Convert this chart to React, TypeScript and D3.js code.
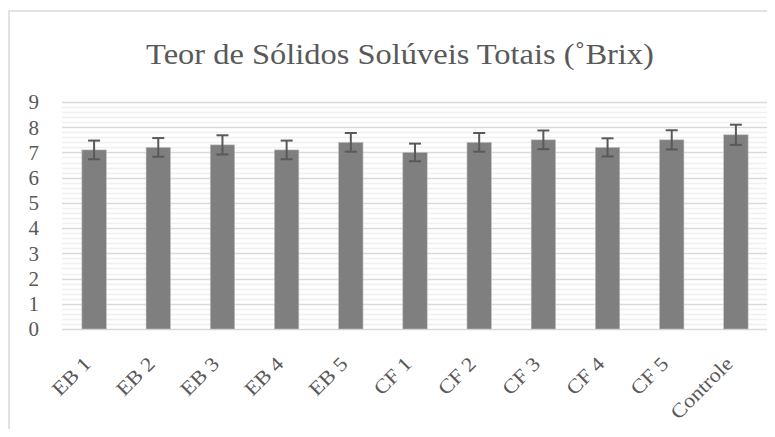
import * as d3 from "d3";
import { useEffect, useRef } from "react";

const categories = ["EB 1", "EB 2", "EB 3", "EB 4", "EB 5", "CF 1", "CF 2", "CF 3", "CF 4", "CF 5", "Controle"];
const means = [7.1, 7.2, 7.3, 7.1, 7.4, 7.0, 7.4, 7.5, 7.2, 7.5, 7.7];
const errors = [0.37, 0.37, 0.38, 0.37, 0.37, 0.35, 0.37, 0.37, 0.36, 0.38, 0.4];
const yTicks = [0, 1, 2, 3, 4, 5, 6, 7, 8, 9];

const width = 775;
const height = 437;
const font = "'Liberation Serif', serif";

export default function App() {
  const svgRef = useRef<SVGSVGElement>(null);

  useEffect(() => {
    if (!svgRef.current) return;
    const svg = d3.select(svgRef.current);
    svg.selectAll("*").remove();

    const margin = { top: 102, right: 7, bottom: 108, left: 62 };
    const innerWidth = width - margin.left - margin.right;
    const innerHeight = height - margin.top - margin.bottom;

    // chart border (cut off at right and bottom like the source)
    svg
      .append("rect")
      .attr("x", 9)
      .attr("y", 11)
      .attr("width", width)
      .attr("height", height)
      .style("fill", "white")
      .style("stroke", "#d9d9d9")
      .style("stroke-width", 1.5);

    // title, stretched a little to match the wider source font
    svg
      .append("text")
      .attr("transform", "translate(400,64) scale(1.12,1)")
      .attr("text-anchor", "middle")
      .style("font-family", font)
      .style("font-size", "29px")
      .style("fill", "#595959")
      .text("Teor de Sólidos Solúveis Totais (˚Brix)");

    const g = svg.append("g").attr("transform", `translate(${margin.left},${margin.top})`);

    const x = d3.scaleBand().domain(categories).range([0, innerWidth]).paddingInner(0.62).paddingOuter(0.31);
    const y = d3.scaleLinear().domain([0, 9]).range([innerHeight, 0]);

    // minor gridlines every 0.2
    const minor = d3.range(0, 9.001, 0.2).filter((v) => Math.abs(v - Math.round(v)) > 0.01);
    g.selectAll(".minor")
      .data(minor)
      .enter()
      .append("line")
      .attr("x1", 0)
      .attr("x2", innerWidth)
      .attr("y1", (d) => Math.round(y(d)) + 0.5)
      .attr("y2", (d) => Math.round(y(d)) + 0.5)
      .style("stroke", "#f0f0f0")
      .style("stroke-width", 1.5);

    // major gridlines
    g.selectAll(".major")
      .data(yTicks)
      .enter()
      .append("line")
      .attr("x1", 0)
      .attr("x2", innerWidth)
      .attr("y1", (d) => Math.round(y(d)) + 0.5)
      .attr("y2", (d) => Math.round(y(d)) + 0.5)
      .style("stroke", "#d9d9d9")
      .style("stroke-width", 1.5);

    // y tick labels
    g.selectAll(".ytick")
      .data(yTicks)
      .enter()
      .append("text")
      .attr("x", -23)
      .attr("y", (d) => y(d))
      .attr("dy", "0.35em")
      .attr("text-anchor", "end")
      .style("font-family", font)
      .style("font-size", "21px")
      .style("fill", "#595959")
      .text((d) => d);

    // bars
    g.selectAll(".bar")
      .data(categories)
      .enter()
      .append("rect")
      .attr("x", (d) => x(d)!)
      .attr("y", (_, i) => y(means[i]))
      .attr("width", x.bandwidth())
      .attr("height", (_, i) => innerHeight - y(means[i]))
      .style("fill", "#7f7f7f")
      .style("stroke", "#bfbfbf")
      .style("stroke-width", 0.6);

    // error bars
    const eb = g
      .selectAll(".err")
      .data(categories)
      .enter()
      .append("g")
      .attr("transform", (d) => `translate(${x(d)! + x.bandwidth() / 2},0)`);
    const errStyle = (s: any) => s.style("stroke", "#595959").style("stroke-width", 2);
    eb.append("line")
      .attr("y1", (_, i) => y(means[i] + errors[i]))
      .attr("y2", (_, i) => y(means[i] - errors[i]))
      .call(errStyle);
    eb.append("line")
      .attr("x1", -6)
      .attr("x2", 6)
      .attr("y1", (_, i) => y(means[i] + errors[i]))
      .attr("y2", (_, i) => y(means[i] + errors[i]))
      .call(errStyle);
    eb.append("line")
      .attr("x1", -6)
      .attr("x2", 6)
      .attr("y1", (_, i) => y(means[i] - errors[i]))
      .attr("y2", (_, i) => y(means[i] - errors[i]))
      .call(errStyle);

    // x labels rotated 45°
    g.selectAll(".xlab")
      .data(categories)
      .enter()
      .append("text")
      .attr(
        "transform",
        (d) => `translate(${x(d)! + x.bandwidth() / 2 - 2},${innerHeight + 36}) rotate(-45) scale(1.12,1)`
      )
      .attr("text-anchor", "end")
      .style("font-family", font)
      .style("font-size", "20px")
      .style("fill", "#595959")
      .text((d) => d);
  }, []);

  return (
    <div style={{ margin: -8 }}>
      <svg ref={svgRef} width={width} height={height} style={{ display: "block" }} />
    </div>
  );
}
